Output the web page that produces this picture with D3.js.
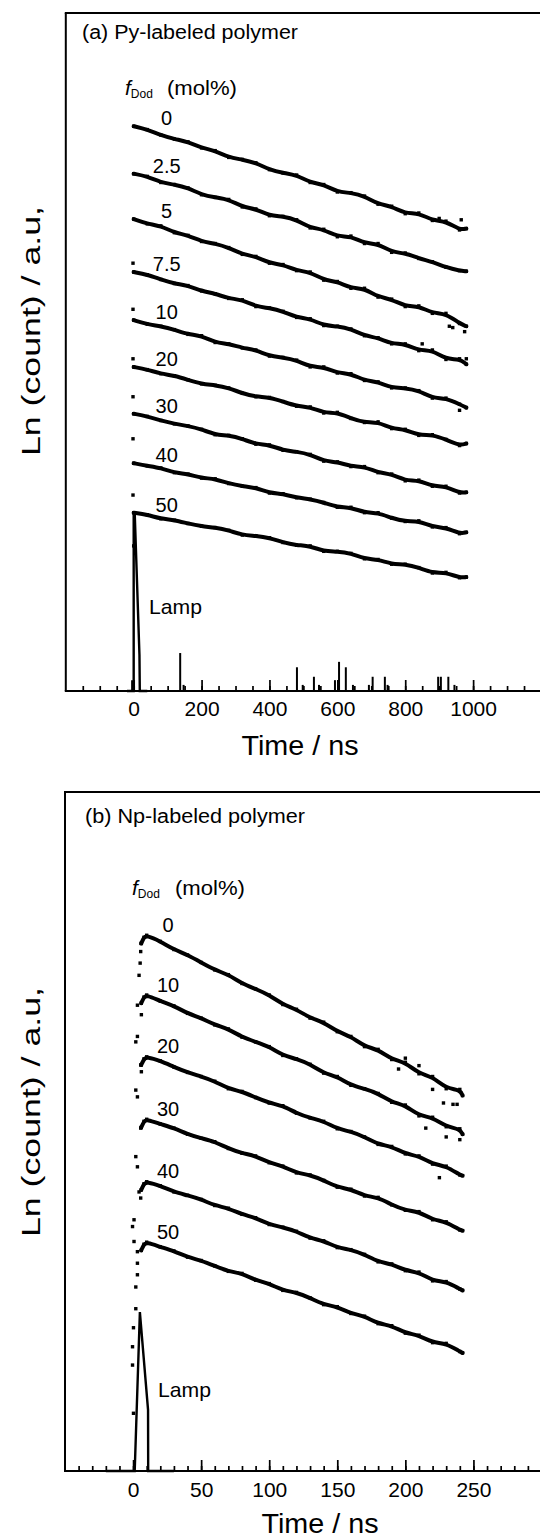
<!DOCTYPE html>
<html><head><meta charset="utf-8">
<script src="https://cdn.jsdelivr.net/npm/d3@7"></script>
<style>
body{margin:0;background:#fff}
svg{display:block}
text{font-family:"Liberation Sans",Arial,Helvetica,sans-serif;fill:#000}
</style>
</head><body>
<svg id="c" width="540" height="1539"></svg>
<script>
// ---------- DATA: (a) Py-labeled polymer ----------
const pyTimes = [0,40,80,120,160,200,240,280,320,360,400,440,480,520,560,600,640,680,720,760,800,840,880,920,960,980];
const pyLabels = ["0","2.5","5","7.5","10","20","30","40","50"];
const py0   = [8.33,8.28,8.20,8.14,8.10,8.01,7.97,7.87,7.84,7.79,7.69,7.64,7.61,7.50,7.47,7.36,7.35,7.30,7.18,7.15,7.04,7.05,6.94,6.93,6.80,6.82];
const py2_5 = [7.63,7.59,7.50,7.47,7.42,7.32,7.28,7.25,7.14,7.11,7.01,7.00,6.95,6.83,6.81,6.70,6.71,6.60,6.60,6.47,6.46,6.38,6.33,6.25,6.20,6.19];
const py5   = [6.96,6.89,6.86,6.76,6.72,6.63,6.60,6.54,6.44,6.41,6.31,6.29,6.20,6.18,6.06,6.04,5.94,5.94,5.81,5.78,5.67,5.68,5.57,5.57,5.42,5.38];
const py7_5 = [6.18,6.14,6.07,6.01,5.98,5.90,5.86,5.79,5.77,5.67,5.65,5.60,5.51,5.49,5.39,5.38,5.34,5.24,5.21,5.12,5.12,5.02,5.03,4.89,4.90,4.82];
const py10  = [5.47,5.41,5.38,5.33,5.26,5.24,5.14,5.12,5.06,5.03,4.94,4.92,4.88,4.78,4.78,4.69,4.68,4.58,4.56,4.47,4.47,4.43,4.32,4.32,4.23,4.18];
const py20  = [4.78,4.74,4.68,4.65,4.59,4.53,4.51,4.47,4.39,4.34,4.33,4.27,4.20,4.19,4.10,4.11,4.02,3.96,3.97,3.87,3.86,3.77,3.78,3.71,3.62,3.65];
const py30  = [4.09,4.05,3.99,3.94,3.91,3.86,3.78,3.77,3.72,3.64,3.63,3.55,3.53,3.49,3.39,3.38,3.31,3.31,3.22,3.20,3.10,3.11,3.02,3.02,2.92,2.93];
const py40  = [3.36,3.32,3.29,3.22,3.20,3.14,3.13,3.06,3.02,3.00,2.92,2.91,2.85,2.83,2.78,2.71,2.71,2.63,2.63,2.55,2.50,2.51,2.42,2.41,2.32,2.34];
const py50  = [2.63,2.60,2.54,2.52,2.47,2.43,2.41,2.37,2.30,2.29,2.26,2.19,2.15,2.14,2.06,2.06,2.03,1.95,1.94,1.87,1.87,1.82,1.74,1.75,1.67,1.68];
const pyLeadT = [-2,-2,-2,-2,-2,-2,0];
const pyLeadV = [6.31,5.63,4.90,4.34,3.72,2.89,2.14];
const pyScatT = [900,965,940,975,980,960,850,930];
const pyScatV = [6.97,6.95,5.36,5.30,4.90,4.14,5.12,5.38];
const pyLampT = [-20,-4,-4,-3,0,0,3,17,18,40];
const pyLampV = [0,0,0.16,0,0,2.63,2.63,0.53,0,0];
const pySpikeT = [137,147,481,498,531,546,593,605,625,646,693,704,740,748,897,905,927,945];
const pySpikeV = [0.56,0.09,0.35,0.09,0.21,0.09,0.16,0.43,0.35,0.09,0.09,0.21,0.21,0.09,0.21,0.21,0.21,0.09];
const pyMajorTicks = [0,200,400,600,800,1000];
const pyMinorTicks = d3.range(-150,1151,50);

// ---------- DATA: (b) Np-labeled polymer ----------
const npTimes = [6,8,10,20,30,40,50,60,70,80,90,100,110,120,130,140,150,160,170,180,190,200,210,220,230,240,242];
const npLabels = ["0","10","20","30","40","50"];
const np0  = [7.77,7.86,7.89,7.80,7.68,7.60,7.49,7.38,7.31,7.18,7.10,7.01,6.87,6.80,6.67,6.61,6.47,6.40,6.25,6.21,6.06,6.02,5.85,5.81,5.63,5.62,5.53];
const np10 = [6.89,6.98,7.01,6.92,6.85,6.74,6.67,6.57,6.51,6.39,6.32,6.25,6.12,6.07,5.99,5.86,5.81,5.68,5.63,5.56,5.43,5.39,5.23,5.21,5.07,5.04,4.96];
const np20 = [5.98,6.07,6.10,6.04,5.95,5.87,5.81,5.74,5.63,5.59,5.50,5.42,5.38,5.27,5.20,5.15,5.04,5.00,4.92,4.81,4.78,4.67,4.64,4.52,4.49,4.36,4.35];
const np30 = [5.06,5.15,5.18,5.11,5.05,4.96,4.90,4.85,4.75,4.68,4.64,4.54,4.49,4.39,4.36,4.28,4.18,4.15,4.05,4.03,3.92,3.84,3.82,3.70,3.67,3.55,3.54];
const np40 = [4.14,4.23,4.26,4.20,4.11,4.06,4.00,3.91,3.87,3.78,3.73,3.63,3.59,3.53,3.43,3.39,3.29,3.26,3.19,3.08,3.05,2.95,2.93,2.80,2.79,2.68,2.66];
const np50 = [3.25,3.34,3.37,3.30,3.24,3.15,3.10,3.02,2.94,2.91,2.81,2.76,2.66,2.63,2.55,2.45,2.42,2.32,2.28,2.17,2.14,2.03,2.00,1.89,1.88,1.76,1.74];
const npLeadT = [6.1,5.6,5.2,4.4,3.2,6.1,3.2,2.0,5.6,6.1,2.0,3.2,5.6,2.0,3.2,4.4,5.6,0.7,-0.4,0.7,3.2,3.2,3.2,2.0,2.0,0.3,-0.4,-0.4,0.3];
const npLeadV = [7.77,7.65,7.48,7.30,6.86,6.72,6.40,6.32,5.98,5.88,5.61,5.51,5.05,4.63,4.48,4.11,4.02,3.70,3.60,3.38,3.23,3.06,2.89,2.71,2.39,2.11,1.83,1.56,0.85];
const npScatT = [195,210,220,228,235,238,230,240,225,200,215];
const npScatV = [5.92,5.97,5.62,5.42,5.40,5.40,4.92,4.88,4.32,6.08,5.05];
const npLampT = [-20,1.2,5,11,11.1,30];
const npLampV = [0,0,2.34,0.9,0,0];
const npSpikeT = [];
const npSpikeV = [];
const npMajorTicks = [0,50,100,150,200,250];
const npMinorTicks = d3.range(-40,291,10);

// ---------- DRAW ----------
const svg = d3.select("#c");
svg.append("rect").attr("width",540).attr("height",1539).attr("fill","#fff");

function panel(cfg){
  const x = d3.scaleLinear().domain(cfg.xDomain).range(cfg.xRange);
  const y = d3.scaleLinear().domain([0,10]).range(cfg.yRange);
  const g = svg.append("g");
  const x0 = cfg.xRange[0], y0 = cfg.yRange[0], yTop = cfg.yRange[1];

  // frame
  g.append("line").attr("x1",x0).attr("x2",x0).attr("y1",yTop).attr("y2",y0).attr("stroke","#000").attr("stroke-width",2);
  g.append("line").attr("x1",x0-1).attr("x2",545).attr("y1",yTop).attr("y2",yTop).attr("stroke","#000").attr("stroke-width",2);

  // axes
  const minor = g.append("g").attr("transform",`translate(0,${y0})`)
    .call(d3.axisBottom(x).tickValues(cfg.minor).tickSizeInner(-5).tickSizeOuter(0).tickFormat(""));
  const major = g.append("g").attr("transform",`translate(0,${y0})`)
    .call(d3.axisBottom(x).tickValues(cfg.major).tickSizeInner(-11).tickSizeOuter(0).tickPadding(cfg.tickPad).tickFormat(d3.format("d")));
  [minor,major].forEach(a=>{
    a.select(".domain").remove();
    a.selectAll("line").attr("stroke","#000").attr("stroke-width",1.7);
    a.selectAll("text").attr("font-family",'"Liberation Sans",Arial,sans-serif').attr("font-size",21).attr("fill","#000");
  });
  g.append("line").attr("x1",x0-1).attr("x2",545).attr("y1",y0).attr("y2",y0).attr("stroke","#000").attr("stroke-width",2.2);

  // lamp
  const lampLine = d3.line().x(d=>x(d[0])).y(d=>y(d[1]));
  g.append("path").datum(d3.zip(cfg.lampT,cfg.lampV)).attr("d",lampLine)
    .attr("fill","none").attr("stroke","#000").attr("stroke-width",2.4).attr("stroke-linejoin","miter");
  g.selectAll(".spike").data(d3.zip(cfg.spikeT,cfg.spikeV)).join("line")
    .attr("x1",d=>x(d[0])).attr("x2",d=>x(d[0])).attr("y1",y(0)).attr("y2",d=>y(d[1]))
    .attr("stroke","#000").attr("stroke-width",2);

  // decay curves
  const line = d3.line().x(d=>x(d[0])).y(d=>y(d[1])).curve(d3.curveBasis);
  cfg.series.forEach((s,i)=>{
    const pts = d3.zip(cfg.times,s);
    g.append("path").datum(pts).attr("d",line).attr("fill","none")
      .attr("stroke","#000").attr("stroke-width",4).attr("stroke-linejoin","round").attr("stroke-linecap","round");
    g.selectAll(null).data(pts).join("rect")
      .attr("x",d=>x(d[0])-1.7).attr("y",d=>y(d[1])-1.7).attr("width",3.4).attr("height",3.4).attr("fill","#000");
    g.append("text").attr("x",x(0)+cfg.labDx).attr("y",y(s[cfg.labIdx])+cfg.labDy)
      .attr("text-anchor","middle").attr("font-size",20).text(cfg.labels[i]);
  });
  const dots = d3.zip(cfg.leadT,cfg.leadV).concat(d3.zip(cfg.scatT,cfg.scatV));
  g.selectAll(".dot").data(dots).join("rect")
    .attr("x",d=>x(d[0])-1.7).attr("y",d=>y(d[1])-1.7).attr("width",3.4).attr("height",3.4).attr("fill","#000");

  // texts
  g.append("text").attr("x",cfg.title[1]).attr("y",cfg.title[2]).attr("font-size",20)
    .attr("textLength",cfg.title[3]).attr("lengthAdjust","spacingAndGlyphs").text(cfg.title[0]);
  const f = g.append("text").attr("x",cfg.fdod[0]).attr("y",cfg.fdod[1]).attr("font-size",21);
  f.append("tspan").attr("font-style","italic").text("f");
  f.append("tspan").attr("font-size",12).attr("dy",3).text("Dod");
  g.append("text").attr("x",cfg.fdod[2]).attr("y",cfg.fdod[1]).attr("font-size",20)
    .attr("textLength",70).attr("lengthAdjust","spacingAndGlyphs").text("(mol%)");
  g.append("text").attr("x",cfg.lamp[0]).attr("y",cfg.lamp[1]).attr("font-size",21)
    .attr("textLength",53).attr("lengthAdjust","spacingAndGlyphs").text("Lamp");
  g.append("text").attr("x",cfg.xt[0]).attr("y",cfg.xt[1]).attr("font-size",27).attr("text-anchor","middle")
    .attr("textLength",117).attr("lengthAdjust","spacingAndGlyphs").text("Time / ns");
  g.append("text").attr("transform",`translate(${cfg.yt[0]},${cfg.yt[1]}) rotate(-90)`)
    .attr("font-size",25).attr("text-anchor","middle")
    .attr("textLength",250).attr("lengthAdjust","spacingAndGlyphs").text("Ln (count) / a.u,");
}

panel({
  xDomain:[-200,1200], xRange:[65.8,541], yRange:[691,13],
  minor:pyMinorTicks, major:pyMajorTicks, tickPad:10,
  times:pyTimes, series:[py0,py2_5,py5,py7_5,py10,py20,py30,py40,py50], labels:pyLabels,
  labIdx:0, labDx:33, labDy:-1,
  leadT:pyLeadT, leadV:pyLeadV, scatT:pyScatT, scatV:pyScatV,
  lampT:pyLampT, lampV:pyLampV, spikeT:pySpikeT, spikeV:pySpikeV,
  title:["(a) Py-labeled polymer",82,39,216], fdod:[125,95,167], lamp:[149,614],
  xt:[300,755], yt:[40,331]
});
panel({
  xDomain:[-50,300], xRange:[65,541.5], yRange:[1471,792],
  minor:npMinorTicks, major:npMajorTicks, tickPad:11,
  times:npTimes, series:[np0,np10,np20,np30,np40,np50], labels:npLabels,
  labIdx:2, labDx:35, labDy:-3.5,
  leadT:npLeadT, leadV:npLeadV, scatT:npScatT, scatV:npScatV,
  lampT:npLampT, lampV:npLampV, spikeT:npSpikeT, spikeV:npSpikeV,
  title:["(b) Np-labeled polymer",85,823,220], fdod:[132,895,175], lamp:[158,1397],
  xt:[320,1533], yt:[40,1112]
});
</script>
</body></html>
